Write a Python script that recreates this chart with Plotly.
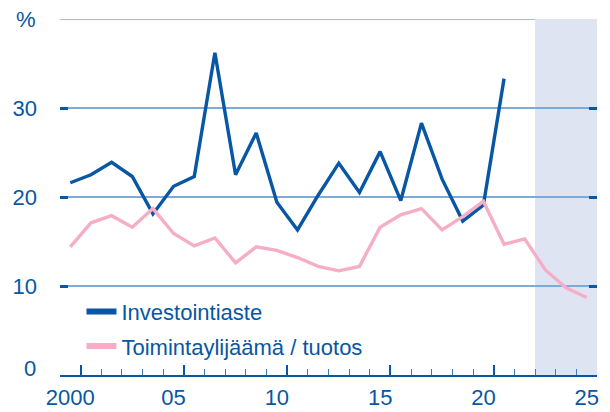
import plotly.graph_objects as go

# ─── Data ─────────────────────────────────────────────────────────────────────

years = list(range(2000, 2026))

investointiaste = [
    21.6, 22.5, 23.9, 22.3, 18.1, 21.2, 22.3, 36.2, 22.5, 27.2,
    19.4, 16.3, 20.2, 23.8, 20.5, 25.1, 19.6, 28.3, 22.0, 17.3,
    19.1, 33.3,
]

toimintaylijaama = [
    14.4, 17.1, 17.9, 16.6, 18.7, 15.9, 14.5, 15.4, 12.6, 14.4,
    14.0, 13.2, 12.2, 11.7, 12.2, 16.6, 18.0, 18.7, 16.3, 17.8,
    19.5, 14.7, 15.3, 11.8, 9.8, 8.7,
]

x_ticks = [2000, 2005, 2010, 2015, 2020, 2025]
x_ticktext = ["2000", "05", "10", "15", "20", "25"]
y_ticks = [10, 20, 30]
y_ticktext = ["10", "20", "30"]
forecast_start = 2022.5

# ─── Theme ────────────────────────────────────────────────────────────────────

_BLUE = "#0757A4"
_PINK = "#F6AEC6"
_GRID = "#80AAD6"
_SHADE = "#DEE4F2"
_FONT = "Liberation Sans, Arial, sans-serif"
X_RANGE = [years[0] - 0.5, years[-1] + 0.5]

fig = go.Figure()

# forecast shading
fig.add_shape(
    type="rect", xref="x", yref="y",
    x0=forecast_start, x1=X_RANGE[1], y0=0, y1=40,
    fillcolor=_SHADE, line=dict(width=0), layer="below",
)

fig.add_trace(go.Scatter(
    x=years[:len(investointiaste)], y=investointiaste,
    name="Investointiaste", mode="lines", showlegend=False,
    line=dict(color=_BLUE, width=3.4),
))
fig.add_trace(go.Scatter(
    x=years, y=toimintaylijaama,
    name="Toimintaylijäämä / tuotos", mode="lines", showlegend=False,
    line=dict(color=_PINK, width=3.4),
))

# legend entries with thicker keys
for name, colour in [("Investointiaste", _BLUE), ("Toimintaylijäämä / tuotos", _PINK)]:
    fig.add_trace(go.Scatter(
        x=[None], y=[None], name=name, mode="lines",
        line=dict(color=colour, width=6), legendgroup=name,
    ))

# "%" unit in place of the top label, "0" sits a little above the axis
for label, yval, shift in [("%", 40, 0), ("0", 0, 7)]:
    fig.add_annotation(
        x=0, xref="paper", xanchor="right", xshift=-22,
        y=yval, yref="y", yanchor="middle", yshift=shift,
        text=label, showarrow=False,
        font=dict(color=_BLUE, size=22, family=_FONT),
    )

# page body has an 8px margin, so the figure is 8px smaller each way
fig.update_layout(
    width=602, height=404,
    paper_bgcolor="white", plot_bgcolor="white",
    font=dict(color=_BLUE, family=_FONT, size=22),
    margin=dict(l=52, r=13, t=11, b=37, autoexpand=False),
    showlegend=True,
    legend=dict(
        x=0.04, xanchor="left", y=0.237, yanchor="top",
        bgcolor="rgba(0,0,0,0)", tracegroupgap=3,
        font=dict(size=22, color=_BLUE),
    ),
    xaxis=dict(
        range=X_RANGE, automargin=False,
        tickmode="array", tickvals=x_ticks, ticktext=x_ticktext,
        ticks="", showgrid=False, zeroline=False,
        showline=True, linecolor=_BLUE, linewidth=2,
        ticklabelstandoff=2,
        tickfont=dict(size=22),
    ),
    xaxis2=dict(
        range=X_RANGE, overlaying="x", anchor="y", side="bottom",
        automargin=False,
        tickmode="linear", tick0=2000.5, dtick=5,
        ticks="inside", ticklen=10, tickwidth=1.5, tickcolor=_BLUE,
        minor=dict(ticks="inside", ticklen=6, tickwidth=1.2,
                   tickcolor="#3D7CC0", dtick=1, tick0=1999.5),
        showticklabels=False, showgrid=False, zeroline=False,
    ),
    yaxis=dict(
        range=[0, 40], automargin=False,
        tickmode="array", tickvals=y_ticks, ticktext=y_ticktext,
        ticks="inside", ticklen=8, tickwidth=2.5, tickcolor=_BLUE,
        mirror="ticks",
        showgrid=True, gridcolor=_GRID, gridwidth=1.5,
        zeroline=False, showline=False,
        ticklabelstandoff=22,
        tickfont=dict(size=22),
    ),
)

# top gridline at 40
fig.add_shape(
    type="line", xref="paper", yref="y", x0=0, x1=1, y0=40, y1=40,
    line=dict(color=_GRID, width=1.5), layer="below",
)

# dummy trace so xaxis2 is drawn
fig.add_trace(go.Scatter(x=[X_RANGE[0]], y=[None], xaxis="x2", showlegend=False,
                         hoverinfo="skip"))

fig.write_html("out.html")
